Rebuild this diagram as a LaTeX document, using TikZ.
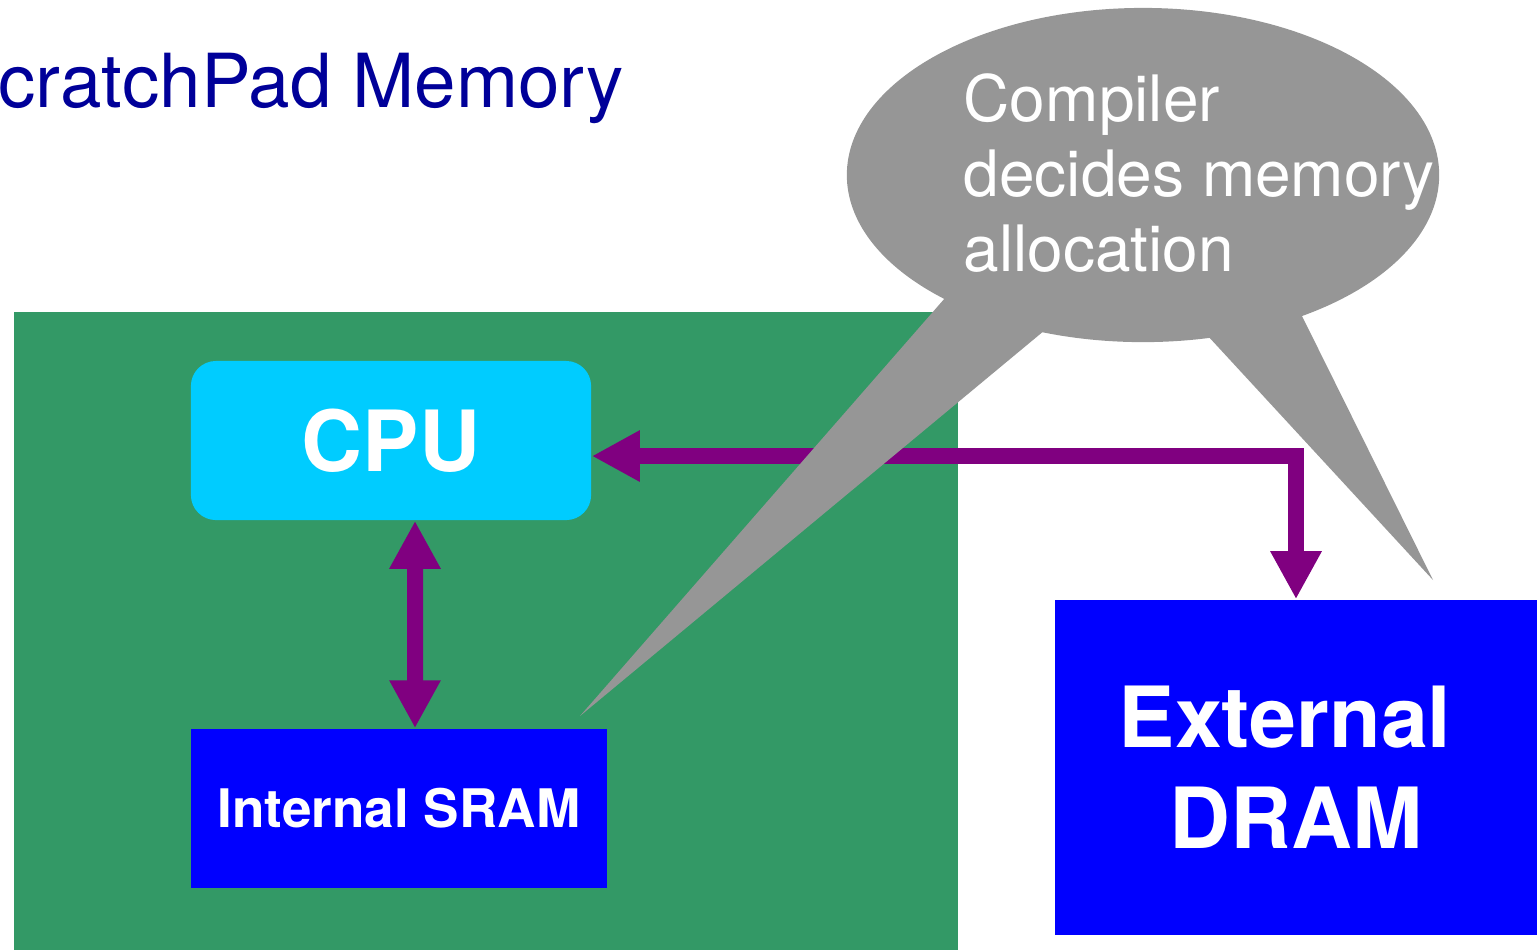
\documentclass[tikz,border=0pt]{standalone}
\usepackage{fontspec}
\setmainfont{TeX Gyre Heros}
\usetikzlibrary{arrows.meta,shapes.geometric}

\definecolor{titleblue}{RGB}{0,0,153}
\definecolor{chipgreen}{RGB}{51,153,102}
\definecolor{cpucyan}{RGB}{0,204,255}
\definecolor{memblue}{RGB}{0,0,255}
\definecolor{buspurple}{RGB}{128,0,128}
\definecolor{notegray}{RGB}{150,150,150}

\tikzset{
  chip/.style={fill=chipgreen, inner sep=0pt, minimum width=9.44cm, minimum height=6.38cm},
  cpubox/.style={fill=cpucyan, rounded corners=0.25cm, inner sep=0pt,
    minimum width=4cm, minimum height=1.59cm, text=white, font=\bfseries\fontsize{24}{28}\selectfont},
  membox/.style={fill=memblue, inner sep=0pt, text=white, align=center},
  bus/.style={draw=buspurple, line width=0.16cm, line join=miter,
    {Triangle[length=0.48cm,width=0.48cm]}-{Triangle[length=0.48cm,width=0.48cm]}},
  balloon/.style={fill=notegray, draw=none},
}

\begin{document}
\begin{tikzpicture}[x=0.01cm, y=-0.01cm]
\useasboundingbox (0,0) rectangle (1537,950);

% title
\node[anchor=base west, inner sep=0pt, text=titleblue,
      font=\fontsize{21.2}{25}\selectfont] (title) at (-2,107) {cratchPad Memory};

% on-chip area and its blocks
\node[chip] (chipbg) at (486,631) {};
\node[cpubox] (cpu) at (391,440.5) {CPU};
\node[membox, minimum width=4.16cm, minimum height=1.59cm,
      font=\bfseries\fontsize{15.1}{18}\selectfont] (sram) at (399,808.5) {Internal SRAM};

% off-chip memory
\node[membox, minimum width=4.82cm, minimum height=3.35cm,
      font=\bfseries\fontsize{24}{28.7}\selectfont] (dram) at (1296,767.5)
      {External\hspace*{0.22cm}\\DRAM};

% buses
\draw[bus] ([xshift=0.24cm]cpu.south) -- ([xshift=0.16cm]sram.north);
\draw[bus] ([yshift=-0.155cm]cpu.east) -| (dram.north);

% speech balloon with two tails
\node[balloon, ellipse, minimum width=5.92cm, minimum height=3.34cm, inner sep=0pt] (note) at (1143,175) {};
\coordinate (tailA) at (580,716);
\coordinate (tailB) at (1433,580);
\fill[balloon] (945,298) -- (tailA) -- (1045,330) -- cycle;
\fill[balloon] (1207,335) -- (tailB) -- (1300,312) -- cycle;
\node[anchor=north west, inner sep=0pt, text=white, align=left,
      font=\fontsize{18.2}{21.3}\selectfont] (notetext) at (963,73)
      {Compiler\\decides memory\\allocation};
\end{tikzpicture}
\end{document}
